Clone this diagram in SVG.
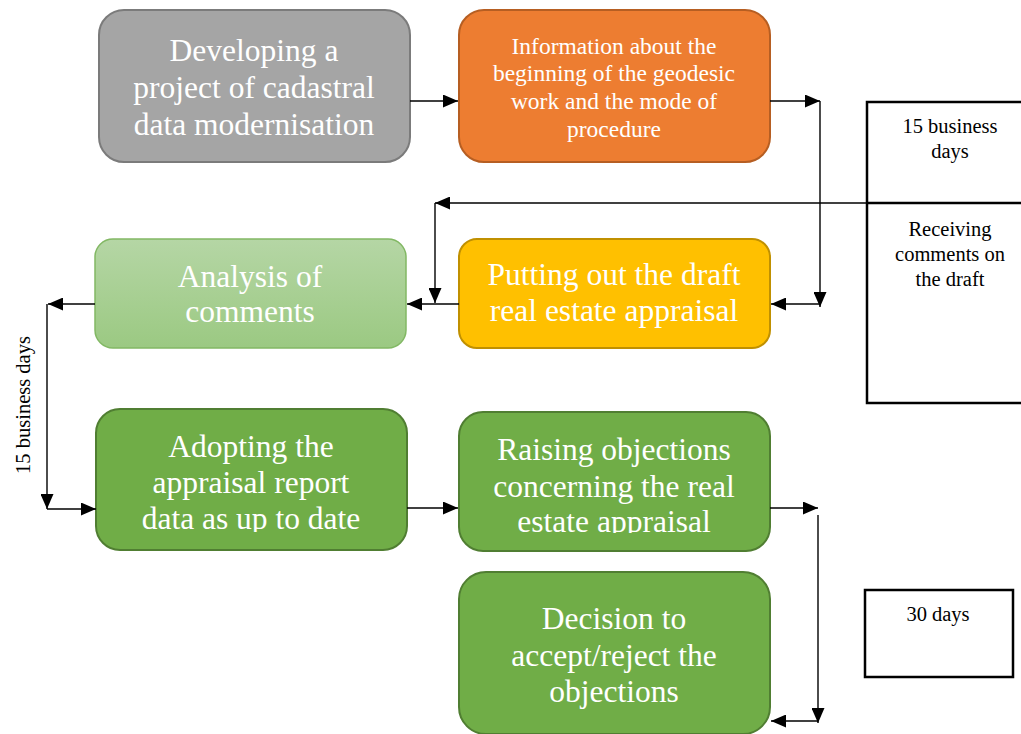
<svg xmlns="http://www.w3.org/2000/svg" width="1021" height="734" viewBox="0 0 1021 734">
  <style>
    .node-text { font-family: "Liberation Serif", "Times New Roman", serif; fill: #ffffff; text-anchor: middle; }
    .big { font-size: 31.5px; }
    .mid { font-size: 23.5px; }
    .note { font-family: "Liberation Serif", "Times New Roman", serif; font-size: 20.5px; fill: #000000; text-anchor: middle; }
    .conn { stroke: #000000; stroke-width: 1.4; fill: none; }
    .box { fill: #ffffff; stroke: #000000; stroke-width: 2.5; }
  </style>
  <defs>
    <marker id="arrow" viewBox="0 0 15 13" refX="15" refY="6.5" markerWidth="15" markerHeight="13" markerUnits="userSpaceOnUse" orient="auto">
      <path d="M0,0 L15,6.5 L0,13 Z" fill="#000000"/>
    </marker>
    <linearGradient id="lightGreen" x1="0" y1="0" x2="0" y2="1">
      <stop offset="0" stop-color="#b5d6a5"/>
      <stop offset="1" stop-color="#9bc982"/>
    </linearGradient>
    <clipPath id="clipAdopt"><rect x="96" y="409" width="311" height="123"/></clipPath>
    <clipPath id="clipRaise"><rect x="458" y="412" width="312" height="121"/></clipPath>
  </defs>

  <!-- process steps -->
  <g id="node-develop">
    <rect x="99" y="10" width="311" height="152" rx="25" fill="#a5a5a5" stroke="#7b7b7b" stroke-width="2"/>
    <text class="node-text big" x="254" y="61">Developing a</text>
    <text class="node-text big" x="254" y="98">project of cadastral</text>
    <text class="node-text big" x="254" y="135">data modernisation</text>
  </g>

  <g id="node-information">
    <rect x="459" y="10" width="311" height="152" rx="25" fill="#ed7d31" stroke="#b65e22" stroke-width="2"/>
    <text class="node-text mid" x="614" y="54">Information about the</text>
    <text class="node-text mid" x="614" y="81">beginning of the geodesic</text>
    <text class="node-text mid" x="614" y="109">work and the mode of</text>
    <text class="node-text mid" x="614" y="137">procedure</text>
  </g>

  <g id="node-analysis">
    <rect x="95" y="239" width="311" height="109" rx="18" fill="url(#lightGreen)" stroke="#82b864" stroke-width="1.5"/>
    <text class="node-text big" x="250" y="287">Analysis of</text>
    <text class="node-text big" x="250" y="322">comments</text>
  </g>

  <g id="node-draft">
    <rect x="459" y="239" width="311" height="109" rx="18" fill="#ffc000" stroke="#c09000" stroke-width="2"/>
    <text class="node-text big" x="614" y="285">Putting out the draft</text>
    <text class="node-text big" x="614" y="321">real estate appraisal</text>
  </g>

  <g id="node-adopting">
    <rect x="96" y="409" width="311" height="141" rx="24" fill="#70ad47" stroke="#507e32" stroke-width="2"/>
    <g clip-path="url(#clipAdopt)">
      <text class="node-text big" x="251" y="457">Adopting the</text>
      <text class="node-text big" x="251" y="493">appraisal report</text>
      <text class="node-text big" x="251" y="529">data as up to date</text>
    </g>
  </g>

  <g id="node-objections">
    <rect x="459" y="412" width="311" height="139" rx="24" fill="#70ad47" stroke="#507e32" stroke-width="2"/>
    <g clip-path="url(#clipRaise)">
      <text class="node-text big" x="614" y="460">Raising objections</text>
      <text class="node-text big" x="614" y="497">concerning the real</text>
      <text class="node-text big" x="614" y="532">estate appraisal</text>
    </g>
  </g>

  <g id="node-decision">
    <rect x="459" y="572" width="311" height="162" rx="27" fill="#70ad47" stroke="#507e32" stroke-width="2"/>
    <text class="node-text big" x="614" y="629">Decision to</text>
    <text class="node-text big" x="614" y="666">accept/reject the</text>
    <text class="node-text big" x="614" y="702">objections</text>
  </g>

  <!-- time-frame notes -->
  <g id="note-comments">
    <rect class="box" x="867" y="102" width="170" height="301"/>
    <line x1="867" y1="203" x2="1025" y2="203" stroke="#000000" stroke-width="2.5"/>
    <text class="note" x="950" y="133">15 business</text>
    <text class="note" x="950" y="158">days</text>
    <text class="note" x="950" y="236">Receiving</text>
    <text class="note" x="950" y="261">comments on</text>
    <text class="note" x="950" y="286">the draft</text>
  </g>

  <g id="note-objections">
    <rect class="box" x="865" y="590" width="148" height="87"/>
    <text class="note" x="938" y="621">30 days</text>
  </g>

  <g id="note-analysis">
    <text class="note" transform="translate(30 405) rotate(-90)" x="0" y="0">15 business days</text>
  </g>

  <!-- connectors -->
  <g id="connectors">
    <line class="conn" x1="410" y1="101" x2="458" y2="101" marker-end="url(#arrow)"/>
    <line class="conn" x1="770" y1="101" x2="820" y2="101" marker-end="url(#arrow)"/>
    <line class="conn" x1="820" y1="101" x2="820" y2="307" marker-end="url(#arrow)"/>
    <line class="conn" x1="820" y1="304" x2="771" y2="304" marker-end="url(#arrow)"/>
    <line class="conn" x1="867" y1="203" x2="435" y2="203" marker-end="url(#arrow)"/>
    <line class="conn" x1="435" y1="203" x2="435" y2="303" marker-end="url(#arrow)"/>
    <line class="conn" x1="459" y1="304" x2="407" y2="304" marker-end="url(#arrow)"/>
    <line class="conn" x1="95" y1="304" x2="48" y2="304" marker-end="url(#arrow)"/>
    <line class="conn" x1="47" y1="304" x2="47" y2="509" marker-end="url(#arrow)"/>
    <line class="conn" x1="47" y1="509" x2="96" y2="509" marker-end="url(#arrow)"/>
    <line class="conn" x1="407" y1="508" x2="458" y2="508" marker-end="url(#arrow)"/>
    <line class="conn" x1="770" y1="508" x2="818" y2="508" marker-end="url(#arrow)"/>
    <line class="conn" x1="818" y1="515" x2="818" y2="723" marker-end="url(#arrow)"/>
    <line class="conn" x1="818" y1="721" x2="771" y2="721" marker-end="url(#arrow)"/>
  </g>
</svg>
